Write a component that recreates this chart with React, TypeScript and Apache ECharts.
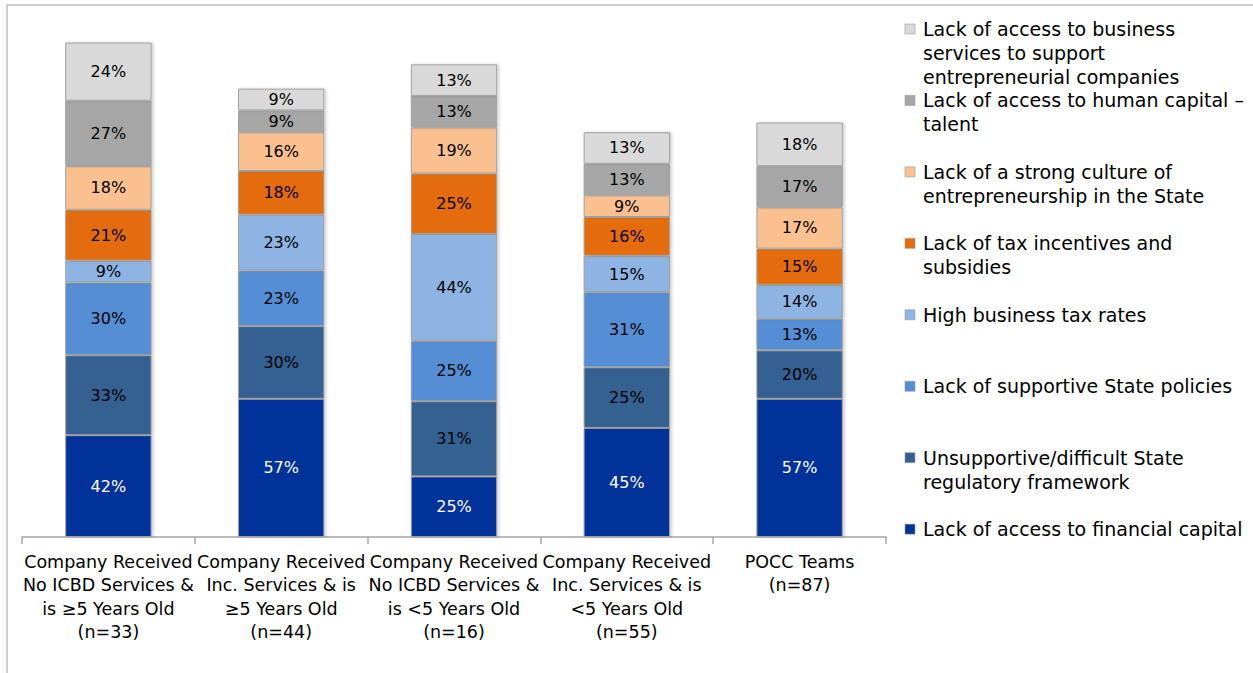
import React, { useEffect, useRef } from "react";
import * as echarts from "echarts";

const categories = [
  "Company Received\nNo ICBD Services &\nis ≥5 Years Old\n(n=33)",
  "Company Received\nInc. Services & is\n≥5 Years Old\n(n=44)",
  "Company Received\nNo ICBD Services &\nis <5 Years Old\n(n=16)",
  "Company Received\nInc. Services & is\n<5 Years Old\n(n=55)",
  "POCC Teams\n(n=87)",
];

// Stack order, bottom to top
const seriesNames = [
  "Lack of access to financial capital",
  "Unsupportive/difficult State regulatory framework",
  "Lack of supportive State policies",
  "High business tax rates",
  "Lack of tax incentives and subsidies",
  "Lack of a strong culture of entrepreneurship in the State",
  "Lack of access to human capital – talent",
  "Lack of access to business services to support entrepreneurial companies",
];

const legendLabels = [
  "Lack of access to financial capital",
  "Unsupportive/difficult State\nregulatory framework",
  "Lack of supportive State policies",
  "High business tax rates",
  "Lack of tax incentives and\nsubsidies",
  "Lack of a strong culture of\nentrepreneurship in the State",
  "Lack of access to human capital –\ntalent",
  "Lack of access to business\nservices to support\nentrepreneurial companies",
];

const financialCapital = [42, 57, 25, 45, 57];
const regulatory = [33, 30, 31, 25, 20];
const statePolicies = [30, 23, 25, 31, 13];
const highTaxRates = [9, 23, 44, 15, 14];
const taxIncentives = [21, 18, 25, 16, 15];
const culture = [18, 16, 19, 9, 17];
const humanCapital = [27, 9, 13, 13, 17];
const businessServices = [24, 9, 13, 13, 18];

const seriesValues = [
  financialCapital,
  regulatory,
  statePolicies,
  highTaxRates,
  taxIncentives,
  culture,
  humanCapital,
  businessServices,
];

const colors = [
  "#00339a",
  "#366092",
  "#558ed5",
  "#8eb4e3",
  "#e46c0a",
  "#fac090",
  "#a6a6a6",
  "#d9d9d9",
];

const labelColors = ["#ffffff", "#000", "#000", "#000", "#000", "#000", "#000", "#000"];

const FONT = "'DejaVu Sans', Verdana, sans-serif";

export default function App() {
  const ref = useRef<HTMLDivElement>(null);

  useEffect(() => {
    if (!ref.current) return;
    const chart = echarts.init(ref.current, null, { renderer: "svg" });

    const series = seriesNames.map((name, i) => ({
      name,
      type: "bar",
      stack: "total",
      barWidth: "50%",
      data: seriesValues[i],
      itemStyle: {
        color: colors[i],
        borderColor: "#a0a0a0",
        borderWidth: 1,
        shadowBlur: 3,
        shadowOffsetX: 2,
        shadowOffsetY: 0,
        shadowColor: "rgba(0,0,0,0.18)",
      },
      label: {
        show: true,
        position: "inside",
        formatter: "{c}%",
        color: labelColors[i],
        fontFamily: FONT,
        fontSize: 16,
      },
    }));

    // Legend drawn top-down in reverse stack order, icon aligned to first line
    const legendStartY = 29;
    const legendStep = 71.45;
    const legendItems: any[] = [];
    for (let k = 0; k < seriesNames.length; k++) {
      const i = seriesNames.length - 1 - k;
      const yc = legendStartY + k * legendStep;
      legendItems.push({
        type: "rect",
        shape: { x: 905, y: yc - 5, width: 10, height: 10 },
        style: { fill: colors[i], stroke: "#9a9a9a", lineWidth: 0.6 },
      });
      legendItems.push({
        type: "text",
        x: 923,
        y: yc - 12,
        style: {
          text: legendLabels[i],
          font: `19px ${FONT}`,
          fill: "#000",
          lineHeight: 24,
          verticalAlign: "top",
          align: "left",
        },
      });
    }

    chart.setOption({
      animation: false,
      grid: { left: 22, right: 367, top: 28, bottom: 136, containLabel: false },
      xAxis: {
        type: "category",
        data: categories,
        axisLine: { lineStyle: { color: "#a6a6a6", width: 1.5 } },
        axisTick: { show: true, length: 7, lineStyle: { color: "#a6a6a6", width: 1.5 } },
        axisLabel: {
          interval: 0,
          margin: 13,
          color: "#000",
          fontFamily: FONT,
          fontSize: 17.5,
          lineHeight: 23.5,
        },
      },
      yAxis: {
        type: "value",
        min: 0,
        max: 210,
        show: false,
        splitLine: { show: false },
      },
      series,
      graphic: [
        {
          type: "rect",
          silent: true,
          shape: { x: 7, y: 5, width: 1300, height: 720 },
          style: { fill: "none", stroke: "#bfbfbf", lineWidth: 1.5 },
        },
        ...legendItems,
      ],
    });

    return () => chart.dispose();
  }, []);

  return (
    <div
      ref={ref}
      style={{ position: "absolute", left: 0, top: 0, width: 1253, height: 673, background: "#fff" }}
    />
  );
}
